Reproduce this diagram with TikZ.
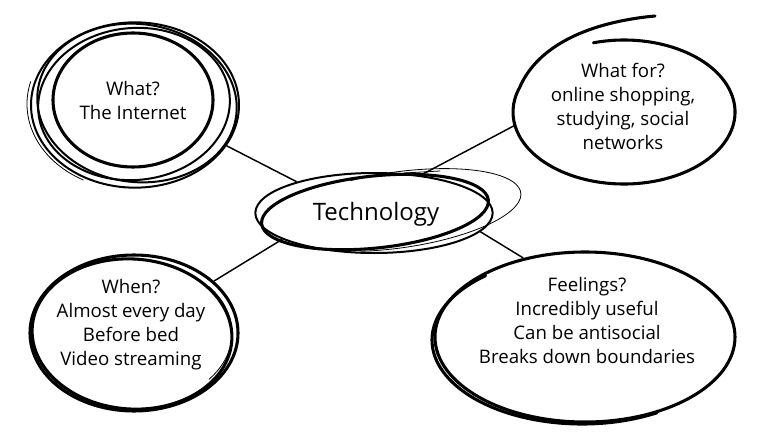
\documentclass[tikz,border=0pt]{standalone}
\usepackage{fontspec}
\setmainfont{Open Sans}
\usetikzlibrary{shapes.geometric}
\begin{document}
\begin{tikzpicture}[x=0.75pt,y=-0.75pt,
  bubble/.style={ellipse, inner sep=0pt},
  label text/.style={align=center, inner sep=0pt, font=\fontsize{14}{18}\selectfont},
  title text/.style={align=center, inner sep=0pt, font=\fontsize{18}{22}\selectfont},
  link/.style={line width=1.1pt},
  heavy/.style={line width=2.3pt, line cap=round},
  medium/.style={line width=1.5pt, line cap=round},
  light/.style={line width=0.6pt, line cap=round}]
\useasboundingbox[fill=white] (0,0) rectangle (768,432);

% bubbles (shapes)
\node[bubble, draw, medium, minimum width=156pt, minimum height=124pt] (tl) at (135,105) {};
\node[bubble, minimum width=166.5pt, minimum height=108pt] (tr) at (624,112) {};
\node[bubble, draw, medium, minimum width=178pt, minimum height=60pt] (c) at (374,213) {};
\node[bubble, draw, heavy, minimum width=156pt, minimum height=117pt] (bl) at (134,333) {};
\node[bubble, draw, heavy, minimum width=225pt, minimum height=127.5pt] (br) at (585,337) {};

% extra sketch strokes: top-left
\draw[heavy] (133,100) ellipse [x radius=80, y radius=67];
\draw[medium, rotate around={-7:(137,103)}] (137,103) ellipse [x radius=100, y radius=79];
\draw[medium, rotate around={5:(134,104)}] (134,104) ellipse [x radius=96, y radius=76];
\draw[light] (133,104) ++(195:106 and 86) arc [start angle=195, end angle=118, x radius=106, y radius=86];

% top-right open stroke
\draw[heavy] (624,112) ++(254:111 and 72) arc [start angle=254, end angle=560, x radius=111, y radius=72]
  .. controls (538,45) and (590,22) .. (655,16);

% centre strokes
\draw[heavy, rotate around={6:(375,212)}] (375,212) ellipse [x radius=114, y radius=36];
\draw[light, rotate around={8:(398,210)}] (398,210) ++(250:124 and 38) arc [start angle=250, end angle=470, x radius=124, y radius=38];
\draw[light] (404,173) -- (440,171);

% bottom-left strokes
\draw[heavy, rotate around={-4:(132,334)}] (132,334) ellipse [x radius=100, y radius=75];
\draw[light] (134,333) ++(-40:98 and 72) arc [start angle=-40, end angle=40, x radius=98, y radius=72];

% bottom-right strokes
\draw[heavy] (582,340) ++(60:150 and 84) arc [start angle=60, end angle=230, x radius=150, y radius=84];
\draw[light] (585,339) ++(252:152 and 87) arc [start angle=252, end angle=300, x radius=152, y radius=87];

% texts
\node[label text] (tltext) at (133,100) {What?\\The Internet};
\node[label text] (trtext) at (623,106) {What for?\\online shopping,\\studying, social\\networks};
\node[title text] (ctext) at (376,214) {Technology};
\node[label text] (bltext) at (131,325) {When?\\Almost every day\\Before bed\\Video streaming};
\node[label text] (brtext) at (587,320) {Feelings?\\Incredibly useful\\Can be antisocial\\Breaks down boundaries};

% connectors
\draw[link] (tl.336) -- (c.158);
\draw[link] (tr.187) -- (c.39);
\draw[link] (bl.33) -- (c.196);
\draw[link] (br.128) -- (c.350);
\end{tikzpicture}
\end{document}
